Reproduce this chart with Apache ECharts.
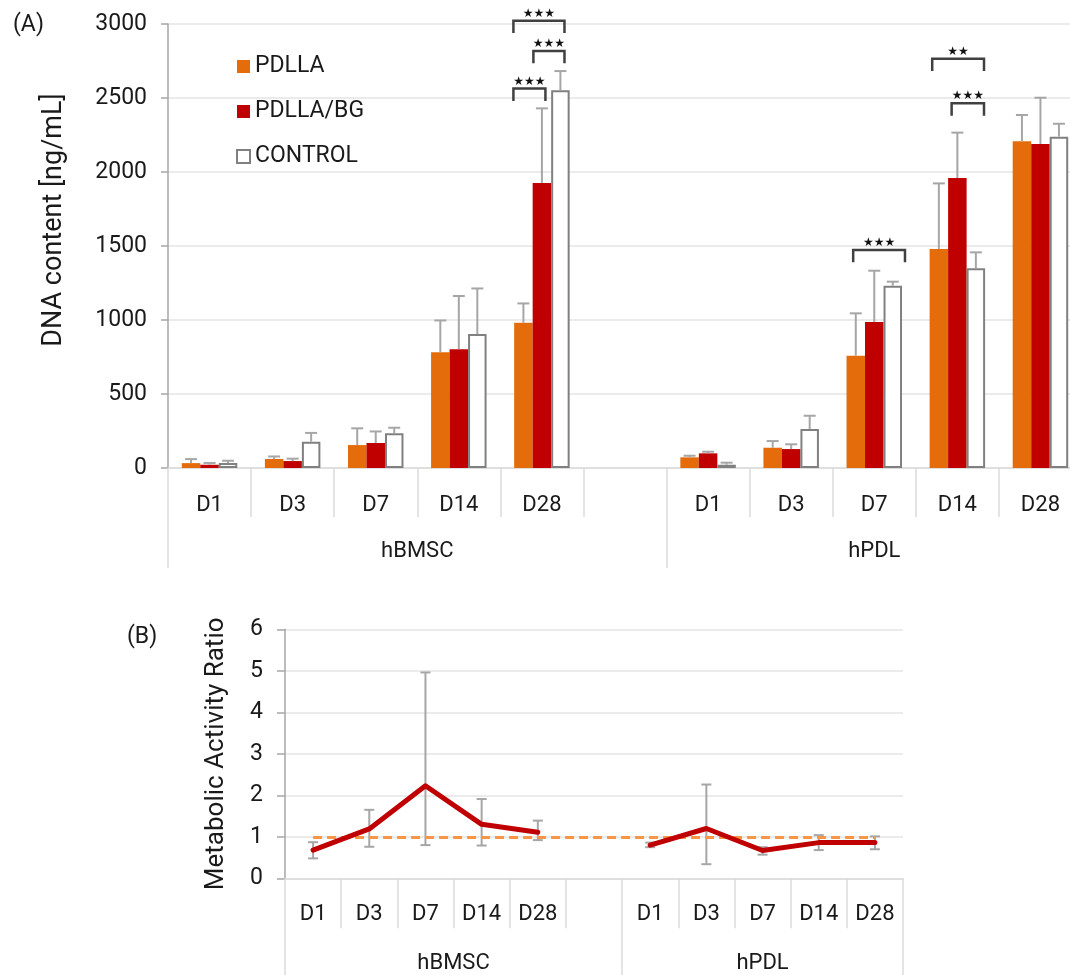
<!DOCTYPE html>
<html>
<head>
<meta charset="utf-8">
<title>DNA content and metabolic activity</title>
<script src="https://cdn.jsdelivr.net/npm/echarts@6/dist/echarts.min.js"></script>
<style>
  html, body { margin: 0; padding: 0; background: #ffffff; }
  #chart { width: 1070px; height: 975px; }
</style>
</head>
<body>
<div id="chart"></div>
<script>
// ---- data ----
const dayLabels = ['D1', 'D3', 'D7', 'D14', 'D28'];
const groupNames = ['hBMSC', 'hPDL'];
// one empty slot separates the two cell types
const categories = [...dayLabels, '', ...dayLabels];

// (A) DNA content [ng/mL], mean and SD per scaffold
const pdllaMean   = [33, 61, 155, 782, 981, null, 72, 137, 759, 1480, 2207];
const pdllaSd     = [27, 17, 113, 215, 131, null, 11, 45, 286, 443, 178];
const pdllaBgMean = [22, 47, 169, 803, 1926, null, 99, 128, 986, 1959, 2189];
const pdllaBgSd   = [12, 16, 78, 359, 504, null, 11, 32, 347, 307, 313];
const controlMean = [33, 178, 234, 905, 2553, null, 22, 264, 1232, 1349, 2239];
const controlSd   = [16, 59, 38, 308, 129, null, 14, 89, 27, 108, 87];

// significance brackets: category index, start / end (in bar widths from slot centre),
// leg bottom value, bracket top value, label
const sigCategory = [4, 4, 4, 8, 9, 9];
const sigFrom     = [-1.54, -0.46, -1.54, -1.14, -1.36, -0.31];
const sigTo       = [1.22, 1.22, 0.19, 1.66, 1.44, 1.44];
const sigLegValue = [2939, 2734, 2480, 1390, 2682, 2380];
const sigTopValue = [3022, 2818, 2565, 1473, 2766, 2464];
const sigLabel    = ['★★★', '★★★', '★★★', '★★★', '★★', '★★★'];

// (B) metabolic activity ratio with error range
const ratio     = [0.68, 1.19, 2.23, 1.30, 1.11, null, 0.80, 1.20, 0.67, 0.86, 0.86];
const ratioLow  = [0.48, 0.76, 0.80, 0.79, 0.92, null, 0.75, 0.34, 0.57, 0.68, 0.70];
const ratioHigh = [0.87, 1.65, 4.96, 1.91, 1.39, null, 0.86, 2.26, 0.75, 1.04, 1.01];
const ratioReference = 1;

// axis ticks
const dnaMax = 3000, dnaStep = 500;
const ratioMax = 6, ratioStep = 1;

// ---- styling ----
const FONT = 'Roboto, "Noto Sans", "DejaVu Sans", sans-serif';
const TEXT = '#1a1a1a';
const AXIS = '#a6a6a6';
const GRID = '#e4e4e4';
const DIVIDER = '#dcdcdc';
const ERR = '#a6a6a6';
const BAR_W = 18.5;

// group label positions / boundaries along the category index
const groupStarts = [0, dayLabels.length + 1];
const groupEnds = [dayLabels.length, categories.length - 1];
const groupCentres = groupStarts.map((s, i) => (s - 0.5 + groupEnds[i] + 0.5) / 2);
const groupBounds = [-0.5, dayLabels.length + 0.5, categories.length - 0.5];

function upperErrorData(mean, sd) {
  const out = [];
  mean.forEach((m, i) => { if (m != null) out.push([i, m, m + sd[i]]); });
  return out;
}
function rangeData(low, high) {
  const out = [];
  low.forEach((l, i) => { if (l != null) out.push([i, l, high[i]]); });
  return out;
}

// vertical error bar (optionally offset sideways by whole bar widths)
function errorBarRenderer(offset, capW, bothEnds) {
  return function (params, api) {
    const i = api.value(0);
    const a = api.coord([i, api.value(1)]);
    const b = api.coord([i, api.value(2)]);
    const x = a[0] + offset * BAR_W;
    const style = { stroke: ERR, lineWidth: 2 };
    const children = [
      { type: 'line', shape: { x1: x, y1: a[1], x2: x, y2: b[1] }, style },
      { type: 'line', shape: { x1: x - capW / 2, y1: b[1], x2: x + capW / 2, y2: b[1] }, style }
    ];
    if (bothEnds) {
      children.push({ type: 'line', shape: { x1: x - capW / 2, y1: a[1], x2: x + capW / 2, y2: a[1] }, style });
    }
    return { type: 'group', children };
  };
}

function bracketRenderer(params, api) {
  const k = params.dataIndex;
  const c = sigCategory[k];
  const base = api.coord([c, sigTopValue[k]]);
  const leg = api.coord([c, sigLegValue[k]]);
  const x0 = base[0] + sigFrom[k] * BAR_W;
  const x1 = base[0] + sigTo[k] * BAR_W;
  return {
    type: 'group',
    children: [
      {
        type: 'polyline',
        shape: { points: [[x0, leg[1]], [x0, base[1]], [x1, base[1]], [x1, leg[1]]] },
        style: { stroke: '#404040', lineWidth: 2.5, fill: null }
      },
      {
        type: 'text',
        style: {
          text: sigLabel[k], x: (x0 + x1) / 2, y: base[1] - 1,
          align: 'center', verticalAlign: 'bottom',
          fontSize: 12, fill: '#111', fontFamily: '"DejaVu Sans", sans-serif'
        }
      }
    ]
  };
}

const categoryAxisCommon = {
  type: 'category',
  data: categories,
  boundaryGap: true,
  axisLine: { show: true, lineStyle: { color: DIVIDER, width: 1.5 } },
  axisLabel: { interval: 0, color: TEXT, fontSize: 22, fontFamily: FONT },
  splitLine: { show: false }
};
const groupAxisCommon = {
  type: 'value',
  min: -0.5,
  max: categories.length - 0.5,
  position: 'bottom',
  axisLine: { show: false },
  splitLine: { show: false },
  axisLabel: {
    customValues: groupCentres,
    formatter: v => groupNames[groupCentres.indexOf(v)] || '',
    color: TEXT, fontSize: 22, fontFamily: FONT
  },
  axisTick: { show: true, customValues: groupBounds, lineStyle: { color: DIVIDER, width: 1.5 } }
};

const chart = echarts.init(document.getElementById('chart'), null, { renderer: 'canvas' });

chart.setOption({
  animation: false,
  backgroundColor: '#ffffff',
  textStyle: { fontFamily: FONT },
  title: [
    { text: '(A)', left: 8, top: 9, textStyle: { fontSize: 23, fontWeight: 'normal', color: TEXT, fontFamily: FONT } },
    { text: '(B)', left: 122, top: 621, textStyle: { fontSize: 23, fontWeight: 'normal', color: TEXT, fontFamily: FONT } }
  ],
  legend: {
    data: ['PDLLA', 'PDLLA/BG', 'CONTROL'],
    orient: 'vertical',
    left: 236,
    top: 55,
    padding: 0,
    itemWidth: 13,
    itemHeight: 13,
    itemGap: 22,
    icon: 'rect',
    textStyle: { fontSize: 23, color: TEXT, fontFamily: FONT }
  },
  grid: [
    { left: 168, top: 24, right: -12, height: 444, outerBoundsMode: 'none', containLabel: false },
    { left: 285, top: 629.3, right: 167, height: 249, outerBoundsMode: 'none', containLabel: false }
  ],
  xAxis: [
    Object.assign({}, categoryAxisCommon, {
      gridIndex: 0,
      axisTick: { show: true, interval: 0, length: 49, lineStyle: { color: DIVIDER, width: 1.5 } },
      axisLabel: Object.assign({}, categoryAxisCommon.axisLabel, { margin: 26 })
    }),
    Object.assign({}, groupAxisCommon, {
      gridIndex: 0,
      axisTick: Object.assign({}, groupAxisCommon.axisTick, { length: 100 }),
      axisLabel: Object.assign({}, groupAxisCommon.axisLabel, { margin: 72 })
    }),
    Object.assign({}, categoryAxisCommon, {
      gridIndex: 1,
      axisTick: { show: true, interval: 0, length: 50, lineStyle: { color: DIVIDER, width: 1.5 } },
      axisLabel: Object.assign({}, categoryAxisCommon.axisLabel, { margin: 25 })
    }),
    Object.assign({}, groupAxisCommon, {
      gridIndex: 1,
      axisTick: Object.assign({}, groupAxisCommon.axisTick, { length: 100 }),
      axisLabel: Object.assign({}, groupAxisCommon.axisLabel, { margin: 74 })
    })
  ],
  yAxis: [
    {
      type: 'value', gridIndex: 0, min: 0, max: dnaMax, interval: dnaStep,
      name: 'DNA content [ng/mL]', nameLocation: 'middle', nameGap: 100,
      nameTextStyle: { fontSize: 27, color: TEXT, fontFamily: FONT, padding: [0, 0, 0, 52] },
      axisLine: { show: true, onZero: false, lineStyle: { color: AXIS, width: 1.5 } },
      axisTick: { show: true, length: 7, lineStyle: { color: AXIS, width: 1.5 } },
      axisLabel: { color: TEXT, fontSize: 23, margin: 21, fontFamily: FONT, formatter: v => String(v) },
      splitLine: { show: true, lineStyle: { color: GRID, width: 1.5 } }
    },
    {
      type: 'value', gridIndex: 1, min: 0, max: ratioMax, interval: ratioStep,
      name: 'Metabolic Activity Ratio', nameLocation: 'middle', nameGap: 56,
      nameTextStyle: { fontSize: 26, color: TEXT, fontFamily: FONT },
      axisLine: { show: true, onZero: false, lineStyle: { color: AXIS, width: 1.5 } },
      axisTick: { show: true, length: 8, lineStyle: { color: AXIS, width: 1.5 } },
      axisLabel: { color: TEXT, fontSize: 23, margin: 22, fontFamily: FONT, formatter: v => String(v) },
      splitLine: { show: true, lineStyle: { color: GRID, width: 1.5 } }
    }
  ],
  series: [
    {
      name: 'PDLLA', type: 'bar', xAxisIndex: 0, yAxisIndex: 0,
      data: pdllaMean, barWidth: BAR_W, barGap: '0%',
      itemStyle: { color: '#e46c0a' }, z: 2
    },
    {
      name: 'PDLLA/BG', type: 'bar', xAxisIndex: 0, yAxisIndex: 0,
      data: pdllaBgMean, barWidth: BAR_W, barGap: '0%',
      itemStyle: { color: '#c00000' }, z: 2
    },
    {
      name: 'CONTROL', type: 'bar', xAxisIndex: 0, yAxisIndex: 0,
      data: controlMean, barWidth: BAR_W, barGap: '0%',
      itemStyle: { color: '#ffffff', borderColor: '#808080', borderWidth: 2 }, z: 2
    },
    {
      type: 'custom', xAxisIndex: 0, yAxisIndex: 0, z: 3,
      renderItem: errorBarRenderer(-1, 12, false),
      data: upperErrorData(pdllaMean, pdllaSd), silent: true
    },
    {
      type: 'custom', xAxisIndex: 0, yAxisIndex: 0, z: 3,
      renderItem: errorBarRenderer(0, 12, false),
      data: upperErrorData(pdllaBgMean, pdllaBgSd), silent: true
    },
    {
      type: 'custom', xAxisIndex: 0, yAxisIndex: 0, z: 3,
      renderItem: errorBarRenderer(1, 12, false),
      data: upperErrorData(controlMean, controlSd), silent: true
    },
    {
      type: 'custom', xAxisIndex: 0, yAxisIndex: 0, z: 4,
      renderItem: bracketRenderer,
      data: sigCategory.map((c, k) => [c, sigTopValue[k]]),
      clip: false, silent: true
    },
    // (B) reference level, error ranges and ratio line
    {
      type: 'line', xAxisIndex: 2, yAxisIndex: 1, data: [], z: 1, silent: true,
      markLine: {
        silent: true, symbol: 'none', label: { show: false },
        lineStyle: { color: '#f79646', width: 3, type: [9, 5] },
        data: [[{ coord: [0, ratioReference] }, { coord: [categories.length - 1, ratioReference] }]]
      }
    },
    {
      type: 'custom', xAxisIndex: 2, yAxisIndex: 1, z: 2,
      renderItem: errorBarRenderer(0, 10, true),
      data: rangeData(ratioLow, ratioHigh), silent: true
    },
    {
      type: 'line', xAxisIndex: 2, yAxisIndex: 1, z: 5,
      data: ratio, symbol: 'none', connectNulls: false,
      lineStyle: { color: '#c00000', width: 5, cap: 'round', join: 'round' }
    }
  ]
});
</script>
</body>
</html>
